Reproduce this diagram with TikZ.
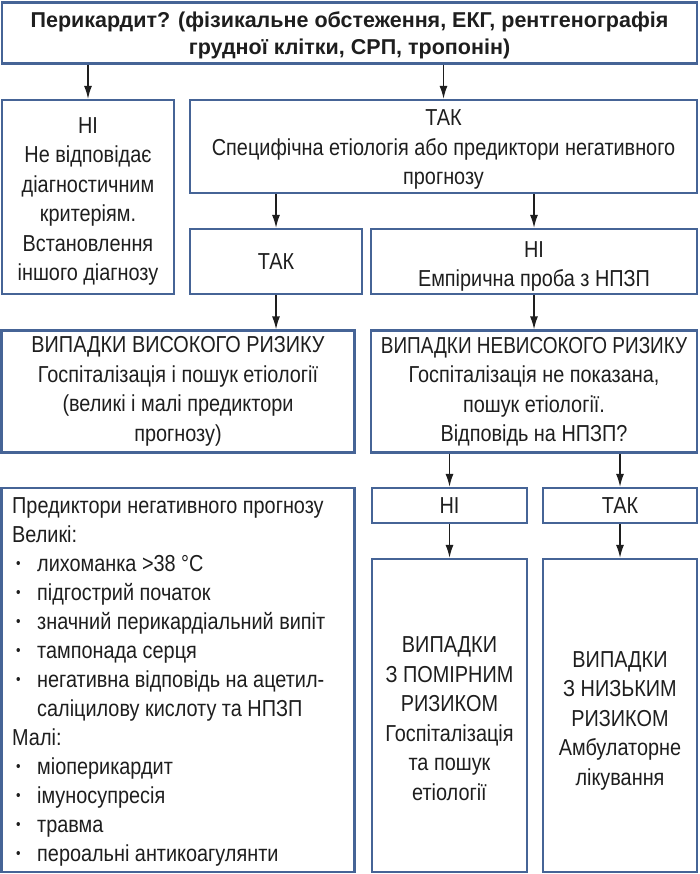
\documentclass[tikz,border=0pt]{standalone}
\usepackage{fontspec}
\usepackage{graphicx}
\setmainfont[FakeStretch=0.86]{Liberation Sans}
\newfontfamily\titlefont{Liberation Sans}
\usetikzlibrary{arrows.meta}
\definecolor{boxblue}{RGB}{70,100,150}
\definecolor{ink}{RGB}{30,30,30}
\tikzset{
  box/.style={draw=boxblue, line width=2.2pt, fill=white, inner sep=0pt, align=center,
    text=ink, font=\fontsize{23.1}{29.5}\selectfont},
  plain/.style={inner sep=0pt, text=ink, font=\fontsize{23.1}{29}\selectfont},
  arr/.style={line width=1.5pt, draw=ink, -{Latex[length=13pt,width=8pt]}},
}
\newcommand{\bul}{\makebox[25pt][l]{\hspace*{4pt}\raisebox{3.5pt}{\fontsize{15}{15}\selectfont •}}}
\newcommand{\st}[1]{\rule{0pt}{#1pt}}
\begin{document}
\begin{tikzpicture}[x=1pt,y=-1pt]
\useasboundingbox[fill=white] (0,0) rectangle (700,874);

\node[box, minimum width=695pt, minimum height=61pt, font=\fontsize{21.5}{27.5}\selectfont\titlefont\bfseries] (top) at (349.5,33)
  {\st{20.5}Перикардит? (фізикальне обстеження, ЕКГ, рентгенографія\\грудної клітки, СРП, тропонін)};

\node[box, minimum width=172pt, minimum height=194pt] (ni1) at (88,197)
  {\st{24.5}НІ\\Не відповідає\\діагностичним\\критеріям.\\Встановлення\\іншого діагнозу};

\node[box, minimum width=507pt, minimum height=93pt] (tak1) at (443.5,146.5)
  {\st{22.5}ТАК\\Специфічна етіологія або предиктори негативного\\прогнозу};

\node[box, minimum width=172pt, minimum height=65pt] (tak2) at (276,261.5) {ТАК};

\node[box, minimum width=326pt, minimum height=65pt] (ni2) at (534,261.5)
  {\st{26}НІ\\Емпірична проба з НПЗП};

\node[box, minimum width=353pt, minimum height=122pt] (high) at (178,391.5)
  {ВИПАДКИ ВИСОКОГО РИЗИКУ\\Госпіталізація і пошук етіології\\(великі і малі предиктори\\прогнозу)};

\node[box, minimum width=326pt, minimum height=122pt] (nonhigh) at (534,391.5)
  {\scalebox{0.955}[1]{ВИПАДКИ НЕВИСОКОГО РИЗИКУ}\\Госпіталізація не показана,\\пошук етіології.\\Відповідь на НПЗП?};

\node[box, minimum width=353pt, minimum height=384pt] (pred) at (178,680) {};
\node[plain, align=left, anchor=north west] (predtext) at (12,497.5)
  {Предиктори негативного прогнозу\\
   Великі:\\
   \bul лихоманка >38 °C\\
   \bul підгострий початок\\
   \bul значний перикардіальний випіт\\
   \bul тампонада серця\\
   \bul негативна відповідь на ацетил-\\
   \hspace*{25pt}саліцилову кислоту та НПЗП\\
   Малі:\\
   \bul міоперикардит\\
   \bul імуносупресія\\
   \bul травма\\
   \bul пероальні антикоагулянти};

\node[box, minimum width=155pt, minimum height=35pt] (ni3) at (449.5,505.5) {НІ};
\node[box, minimum width=154pt, minimum height=35pt] (tak3) at (620,505.5) {ТАК};

\node[box, minimum width=155pt, minimum height=313pt] (mod) at (449.5,715.5)
  {\st{22.5}ВИПАДКИ\\З ПОМІРНИМ\\РИЗИКОМ\\Госпіталізація\\та пошук\\етіології};
\node[box, minimum width=154pt, minimum height=313pt] (low) at (620,715.5)
  {\st{26}ВИПАДКИ\\З НИЗЬКИМ\\РИЗИКОМ\\Амбулаторне\\лікування};

\draw[arr] (top.south -| ni1.north) -- (ni1.north);
\draw[arr] (top.south -| tak1.north) -- (tak1.north);
\draw[arr] (tak1.south -| tak2.north) -- (tak2.north);
\draw[arr] (tak1.south -| ni2.north) -- (ni2.north);
\draw[arr] (tak2.south) -- (tak2.south |- high.north);
\draw[arr] (ni2.south) -- (ni2.south |- nonhigh.north);
\draw[arr] (nonhigh.south -| ni3.north) -- (ni3.north);
\draw[arr] (nonhigh.south -| tak3.north) -- (tak3.north);
\draw[arr] (ni3.south) -- (mod.north);
\draw[arr] (tak3.south) -- (low.north);
\end{tikzpicture}
\end{document}
